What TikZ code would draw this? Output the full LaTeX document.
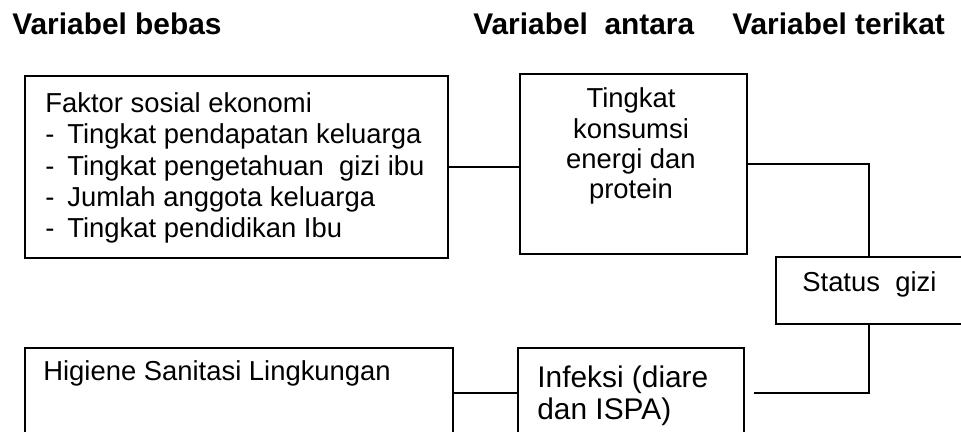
\documentclass[tikz,border=0pt]{standalone}
\usepackage{fontspec}
\setmainfont{Liberation Sans}
\usetikzlibrary{positioning}
\tikzset{kotak/.style={draw, line width=1pt, inner sep=0pt, anchor=north west}}
\tikzset{judul/.style={font=\fontsize{17}{20}\selectfont\bfseries, inner sep=0pt, anchor=base west}}
\tikzset{isi/.style={font=\fontsize{15.6}{17.9}\selectfont, inner sep=0pt}}
\tikzset{garis/.style={line width=1pt}}
\newcommand{\butir}{\makebox[0.44cm][l]{-}}

\begin{document}
\begin{tikzpicture}[x=0.02cm, y=-0.02cm]
    \clip (0,0) rectangle (961,432);
    % judul kolom
    \node[judul] (bebas) at (12,35) {Variabel bebas};
    \node[judul] (antara) at (473,35) {Variabel\ \ antara};
    \node[judul] (terikat) at (732,35) {Variabel terikat};
    % kotak
    \node[kotak, minimum width=8.46cm, minimum height=3.64cm] (sosek) at (24,75) {};
    \node[kotak, minimum width=4.54cm, minimum height=3.6cm] (konsumsi) at (519,73) {};
    \node[kotak, minimum width=3.74cm, minimum height=1.34cm] (status) at (775,256) {};
    \node[kotak, minimum width=8.56cm, minimum height=1.8cm] (higiene) at (24,347) {};
    \node[kotak, minimum width=4.52cm, minimum height=1.8cm] (infeksi) at (517,347) {};
    % isi kotak (anchor base = baris terakhir)
    \node[isi, anchor=base west, align=left] (sosekteks) at (45,238) {Faktor sosial ekonomi\\
      \butir Tingkat pendapatan keluarga\\
      \butir Tingkat pengetahuan\ \ gizi ibu\\
      \butir Jumlah anggota keluarga\\
      \butir Tingkat pendidikan Ibu};
    \node[isi, font=\fontsize{15.6}{17.3}\selectfont, anchor=base, align=center] (konsumsiteks) at (631,199) {Tingkat\\konsumsi\\energi dan\\protein};
    \node[isi, anchor=base west] (statusteks) at (802,292) {Status\ \ gizi};
    \node[isi, anchor=base west] (higieneteks) at (43,381) {Higiene Sanitasi Lingkungan};
    \node[isi, font=\fontsize{17}{18.1}\selectfont, anchor=base west, align=left] (infeksiteks) at (537,419) {Infeksi (diare\\dan ISPA)};
    % garis penghubung
    \draw[garis] (sosek.east) -- (sosek.east -| konsumsi.west);
    \draw[garis] (konsumsi.east) -| (status.north);
    \draw[garis, shorten >=0.18cm] (status.south) |- (infeksi.east);
    \draw[garis] (higiene.east) -- (infeksi.west);
\end{tikzpicture}
\end{document}
